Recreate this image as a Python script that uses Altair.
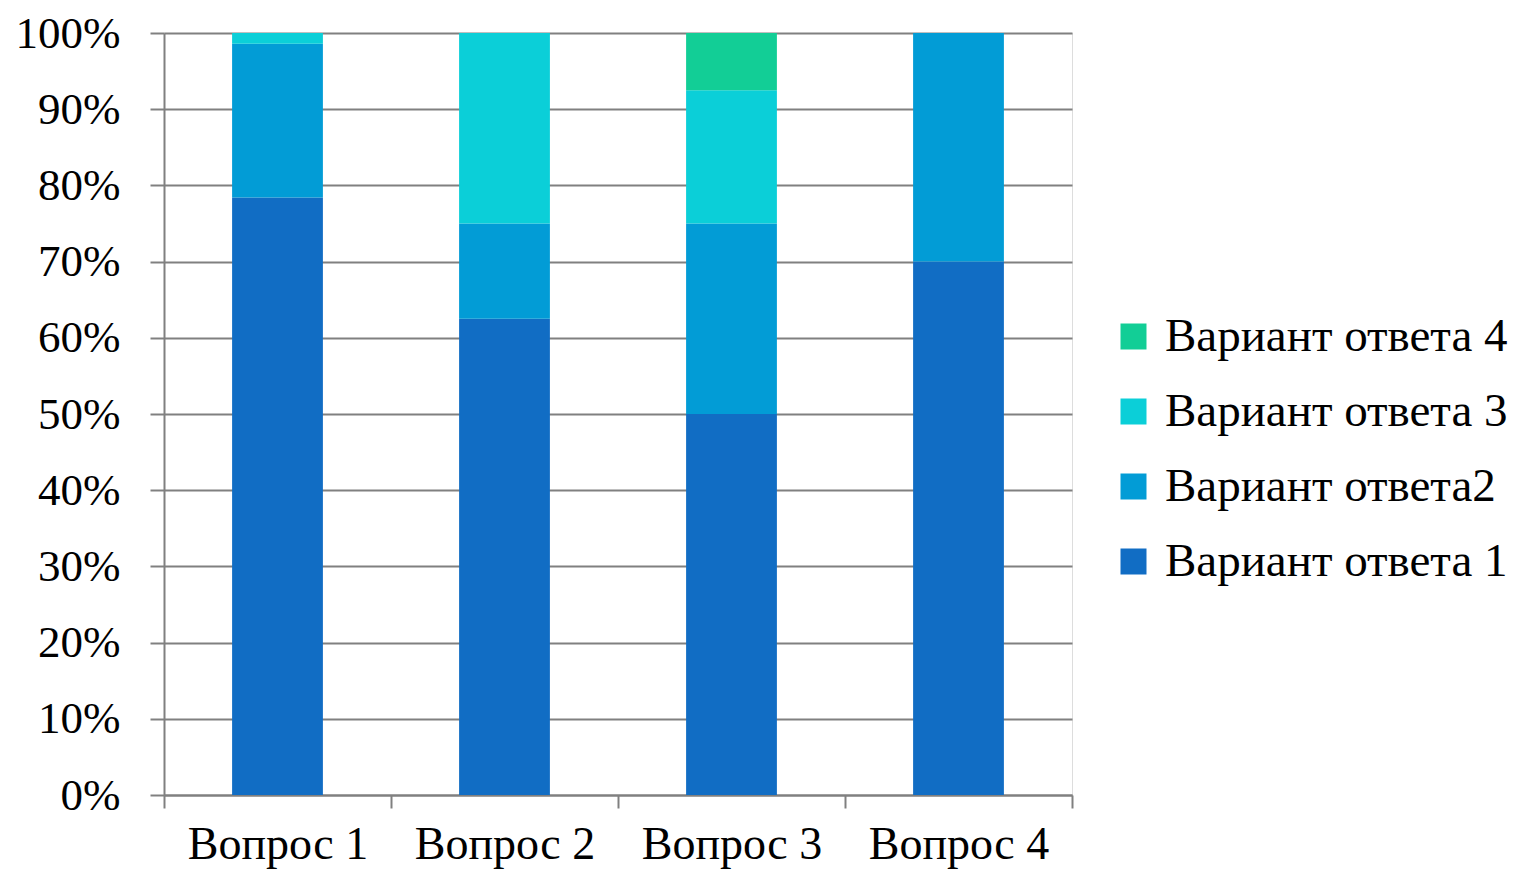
import altair as alt
import pandas as pd

questions = ["Вопрос 1", "Вопрос 2", "Вопрос 3", "Вопрос 4"]
series = ["Вариант ответа 1", "Вариант ответа2", "Вариант ответа 3", "Вариант ответа 4"]
v1 = [78.4, 62.5, 50.0, 70.0]
v2 = [20.2, 12.5, 25.0, 30.0]
v3 = [1.4, 25.0, 17.5, 0.0]
v4 = [0.0, 0.0, 7.5, 0.0]
colors = ["#116DC4", "#029CD6", "#0BCFD8", "#12CE96"]

rows = []
for si, (s, vals) in enumerate(zip(series, [v1, v2, v3, v4])):
    for q, v in zip(questions, vals):
        rows.append({"q": q, "s": s, "v": v, "o": si})
df = pd.DataFrame(rows)

FONT = "Liberation Serif"

chart = alt.Chart(df).mark_bar(stroke=None, width=alt.RelativeBandSize(0.4)).encode(
    x=alt.X("q:N", sort=questions, title=None,
            scale=alt.Scale(paddingInner=0, paddingOuter=0),
            axis=alt.Axis(labelAngle=0, tickBand="extent", tickSize=13, grid=False,
                          labelPadding=14, labelFontSize=46, labelFont=FONT,
                          labelColor="black", domainColor="#808080", tickColor="#808080",
                          domainWidth=2, tickWidth=2, labelLimit=300)),
    y=alt.Y("v:Q", stack="normalize", title=None,
            scale=alt.Scale(domain=[0, 1]),
            axis=alt.Axis(format=".0%", values=[i / 10 for i in range(11)],
                          tickSize=14, labelPadding=30, labelFontSize=45, labelFont=FONT,
                          labelColor="black", domainColor="#808080", tickColor="#808080",
                          gridColor="#808080", gridWidth=2, domainWidth=2, tickWidth=2,
                          labelBaseline="middle")),
    color=alt.Color("s:N", scale=alt.Scale(domain=series[::-1], range=colors[::-1]),
                    legend=alt.Legend(title=None, orient="none", legendX=946, legendY=280,
                                      symbolType="square", symbolSize=676, symbolStrokeWidth=0,
                                      labelFontSize=47, labelFont=FONT, labelColor="black",
                                      rowPadding=27, labelOffset=8, padding=0,
                                      labelLimit=500)),
    order=alt.Order("o:Q", sort="ascending"),
).properties(
    width=908, height=762,
    padding={"left": 156, "top": 25, "right": 450, "bottom": 85},
    autosize=alt.AutoSizeParams(type="none"),
).configure_view(stroke=None, strokeWidth=0, fill=None).configure(background="white")

chart.save("out.html", embed_options={"renderer": "svg", "actions": False})
